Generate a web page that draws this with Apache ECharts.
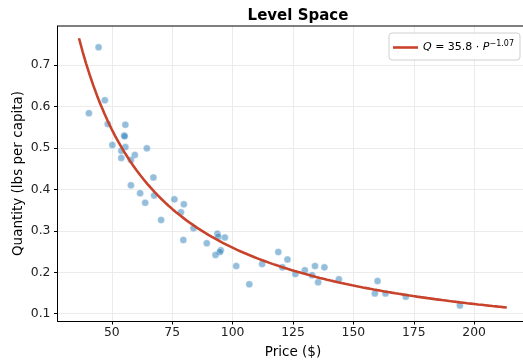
<!DOCTYPE html>
<html>
<head>
<meta charset="utf-8">
<script src="https://cdn.jsdelivr.net/npm/echarts@6/dist/echarts.min.js"></script>
<style>html,body{margin:0;padding:0;background:#fff;}#c{width:523px;height:360px;}</style>
</head>
<body>
<div id="c"></div>
<script>
// Observed data points (price $, quantity lbs per capita)
const prices = [44.5, 47.1, 40.5, 48.3, 55.6, 55.1, 55.3, 55.6, 50.2, 64.5, 53.9, 59.5, 53.9, 57.9, 67.2, 57.9, 61.7, 67.5, 63.8, 75.9, 79.8, 78.6, 70.4, 83.8, 79.6, 89.3, 93.7, 94.1, 96.8, 95.1, 94.7, 92.9, 101.5, 106.9, 112.2, 118.9, 122.7, 120.6, 126.0, 129.9, 134.1, 138.0, 132.9, 135.4, 144.0, 160.0, 158.9, 163.3, 171.7, 194.1];
const quantities = [0.743, 0.615, 0.584, 0.558, 0.556, 0.530, 0.528, 0.502, 0.507, 0.499, 0.493, 0.483, 0.476, 0.471, 0.429, 0.410, 0.391, 0.385, 0.368, 0.376, 0.364, 0.345, 0.326, 0.306, 0.278, 0.270, 0.293, 0.286, 0.284, 0.253, 0.249, 0.242, 0.215, 0.171, 0.220, 0.249, 0.231, 0.212, 0.196, 0.205, 0.215, 0.212, 0.193, 0.176, 0.183, 0.179, 0.149, 0.149, 0.141, 0.120];

// Fitted model shown in the legend: Q = 35.8 * P^-1.07
const fitA = 35.8;
const fitB = -1.07;
const curveStart = 36.4;
const curveEnd = 213.5;
const curveSamples = 120;

// Tick labels
const xTicks = [50, 75, 100, 125, 150, 175, 200];
const yTicks = [0.1, 0.2, 0.3, 0.4, 0.5, 0.6, 0.7];

const scatterData = prices.map((p, i) => [p, quantities[i]]);
const curveData = [];
for (let k = 0; k < curveSamples; k++) {
  const p = curveStart + (curveEnd - curveStart) * k / (curveSamples - 1);
  curveData.push([p, fitA * Math.pow(p, fitB)]);
}

const FONT = 'DejaVu Sans';
const chart = echarts.init(document.getElementById('c'), null, {renderer: 'canvas'});
chart.setOption({
  animation: false,
  backgroundColor: '#fff',
  title: {
    text: 'Level Space',
    left: 293, top: 4,
    textAlign: 'center',
    textStyle: {fontFamily: FONT, fontWeight: 'bold', fontSize: 15, color: '#000'}
  },
  grid: {left: 57.5, top: 26, width: 471, height: 295, containLabel: false,
         outerBoundsMode: 'none', show: false},
  legend: {
    data: ['fit'],
    left: 389, top: 33,
    padding: [7, 6, 7, 4],
    backgroundColor: 'rgba(255,255,255,0.9)',
    borderColor: '#d0d0d0', borderWidth: 1, borderRadius: 3,
    icon: 'rect',
    itemWidth: 25, itemHeight: 2.6,
    formatter: function () { return '{i|Q} = 35.8 · {i|P}{s|−1.07}'; },
    textStyle: {
      fontFamily: FONT, fontSize: 11, color: '#000',
      rich: {
        i: {fontFamily: FONT, fontSize: 11, fontStyle: 'italic', color: '#000'},
        s: {fontFamily: FONT, fontSize: 8, color: '#000', padding: [0, 0, 7, 0]}
      }
    }
  },
  xAxis: {
    type: 'value',
    min: 27.5, max: 222.5,
    name: 'Price ($)', nameLocation: 'middle', nameGap: 24, nameMoveOverlap: false,
    nameTextStyle: {fontFamily: FONT, fontSize: 13.5, color: '#000'},
    axisLine: {show: true, onZero: false, lineStyle: {color: '#000', width: 1}},
    axisTick: {show: true, inside: false, length: 3.5, customValues: xTicks, lineStyle: {color: '#000'}},
    axisLabel: {customValues: xTicks, margin: 6, fontFamily: FONT, fontSize: 12.4, color: '#222',
                formatter: v => String(Math.round(v))},
    splitLine: {show: true, lineStyle: {color: '#ebebeb', width: 1}}
  },
  yAxis: {
    type: 'value',
    min: 0.0825, max: 0.7942,
    name: 'Quantity (lbs per capita)', nameLocation: 'middle', nameGap: 32, nameMoveOverlap: false,
    nameTextStyle: {fontFamily: FONT, fontSize: 13.5, color: '#000'},
    axisLine: {show: true, onZero: false, lineStyle: {color: '#000', width: 1}},
    axisTick: {show: true, inside: false, length: 3.5, customValues: yTicks, lineStyle: {color: '#000'}},
    axisLabel: {customValues: yTicks, margin: 7, fontFamily: FONT, fontSize: 12.4, color: '#222',
                formatter: v => v.toFixed(1)},
    splitLine: {show: true, lineStyle: {color: '#ebebeb', width: 1}}
  },
  graphic: [
    {type: 'line', shape: {x1: 57.5, y1: 26, x2: 523, y2: 26}, style: {stroke: '#000', lineWidth: 1}, z: 100}
  ],
  series: [
    {
      type: 'scatter', name: 'data', data: scatterData,
      symbolSize: 7,
      itemStyle: {color: 'rgba(31,119,180,0.6)', borderColor: 'rgba(255,255,255,0.8)', borderWidth: 0.5},
      z: 2
    },
    {
      type: 'line', name: 'fit', data: curveData,
      showSymbol: false, symbol: 'none', smooth: false,
      lineStyle: {color: '#c8432b', width: 2.6},
      itemStyle: {color: '#c8432b'},
      z: 3
    }
  ]
});
</script>
</body>
</html>
